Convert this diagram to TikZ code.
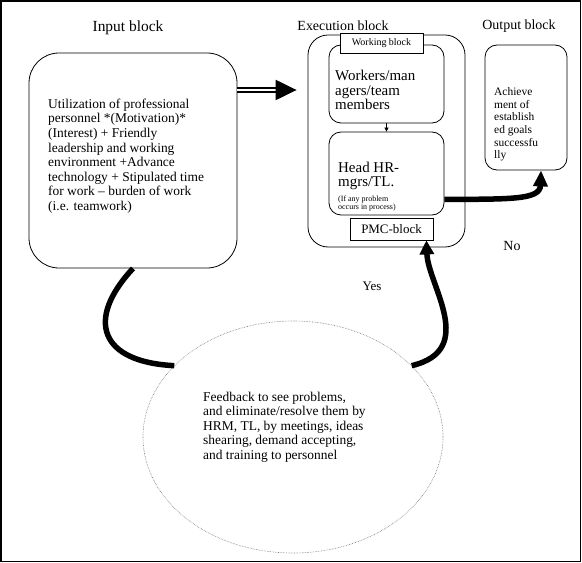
\documentclass[tikz,border=0pt]{standalone}
\usepackage{fontspec}
\setmainfont{Liberation Serif}
\usetikzlibrary{arrows.meta,shapes.geometric}
\tikzset{
  rbox/.style={draw, line width=0.8bp, inner sep=0pt},
  tagbox/.style={draw, line width=0.8bp, fill=white, inner sep=0pt},
  fatline/.style={line width=5.5bp},
  txt/.style={inner sep=0pt, align=left, anchor=west},
}

\begin{document}
\begin{tikzpicture}[x=1bp,y=-1bp]
\useasboundingbox (0,0) rectangle (582,563);
\draw[line width=1.5bp] (1,1) rectangle (580.5,561.5);
% block titles
\node (intitle) at (128,28) {\fontsize{15.5}{18}\selectfont Input block};
\node (extitle) at (343,26) {\fontsize{14}{16}\selectfont Execution block};
\node (outtitle) at (519,26) {\fontsize{14}{16}\selectfont Output block};
% boxes
\node[rbox, rounded corners=30bp, minimum width=208bp, minimum height=215bp] (input) at (133,160.5) {};
\node[rbox, rounded corners=20bp, minimum width=157bp, minimum height=212bp] (exec) at (386.5,141) {};
\node[rbox, rounded corners=12bp, minimum width=115bp, minimum height=78bp] (workers) at (386.5,84) {};
\node[rbox, rounded corners=12bp, minimum width=115bp, minimum height=83bp] (head) at (386.5,173.5) {};
\node[tagbox, minimum width=83bp, minimum height=20bp, font=\fontsize{10}{12}\selectfont] (wblock) at (381.5,43) {Working block};
\node[tagbox, minimum width=83bp, minimum height=22bp, font=\fontsize{13}{15}\selectfont] (pmc) at (391.5,229) {PMC-block};
\node[rbox, rounded corners=12bp, minimum width=82bp, minimum height=125bp] (output) at (526,107.5) {};
\node[ellipse, draw=black!55, densely dotted, line width=0.6bp, inner sep=0pt, minimum width=300bp, minimum height=232bp] (fb) at (293,437) {};
% texts
\node[txt, font=\fontsize{13.5}{14.6}\selectfont] (intext) at (48,156) {Utilization of professional\\personnel *(Motivation)*\\(Interest) + Friendly\\leadership and working\\environment +Advance\\technology + Stipulated time\\for work -- burden of work\\(i.e. teamwork)};
\node[txt, font=\fontsize{15}{14.5}\selectfont] (wtext) at (335,90) {Workers/man\\agers/team\\members};
\node[txt, font=\fontsize{15}{14}\selectfont] (htext) at (338,176) {Head HR-\\mgrs/TL.};
\node[txt, font=\fontsize{8}{7.5}\selectfont] (hnote) at (338,203.5) {(If any problem\\occurs in process)};
\node[txt, font=\fontsize{11.5}{12.6}\selectfont] (otext) at (494,124.5) {Achieve\\ment of\\establish\\ed goals\\successfu\\lly};
\node[txt, font=\fontsize{13.5}{14.6}\selectfont] (fbtext) at (203,427) {Feedback to see problems,\\and eliminate/resolve them by\\HRM, TL, by meetings, ideas\\shearing, demand accepting,\\and training to personnel};
\node[font=\fontsize{13}{15}\selectfont] (yes) at (372,286) {Yes};
\node[font=\fontsize{14}{16}\selectfont] (no) at (512,246) {No};
% connectors
\draw[double, double distance=2.2bp, line width=2.2bp, shorten >=11bp, -{Triangle[length=21bp,width=20bp]}] (input.east |- 0,90) -- (exec.west |- 0,90);
\draw[line width=0.8bp, -{Triangle[length=4bp,width=4bp]}] (workers) -- (head);
\draw[fatline, -{Triangle[length=16bp,width=14bp]}] (head.east |- 0,199.5) .. controls (510,199) and (540,200) .. ([xshift=15bp]output.south);
\draw[fatline] (input.south) .. controls (85,320) and (100,362) .. (fb.149);
\draw[fatline, -{Triangle[length=14bp,width=14bp]}] (fb.31) .. controls (478,350) and (428,285) .. ([xshift=-7bp]pmc.south east);
\end{tikzpicture}
\end{document}
